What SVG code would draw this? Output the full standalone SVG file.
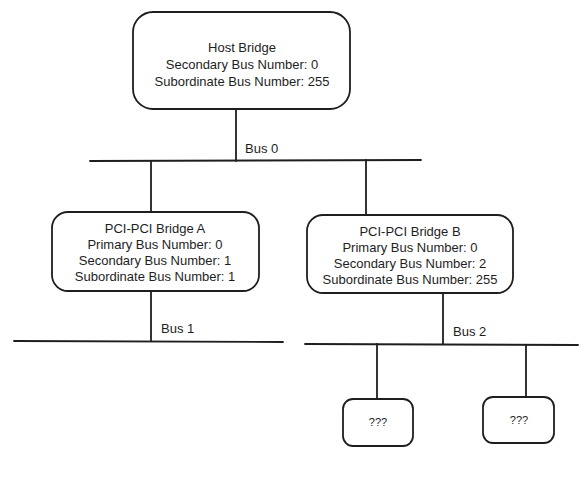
<svg xmlns="http://www.w3.org/2000/svg" width="586" height="488" viewBox="0 0 586 488">
<style>
.box{fill:#ffffff;stroke:#1e1e1e;stroke-width:1.8}
.ln{stroke:#1e1e1e;stroke-width:1.8;fill:none;stroke-linecap:round}
text{font-family:"Liberation Sans",Arial,sans-serif;font-size:13px;fill:#1e1e1e;text-anchor:middle;dominant-baseline:central}
.lbl{text-anchor:start}
</style>
<rect width="586" height="488" fill="#ffffff"/>
<g id="connectors">
<line class="ln" x1="236" y1="109" x2="236" y2="161"/>
<line class="ln" x1="90" y1="161" x2="421" y2="160"/>
<line class="ln" x1="151" y1="161" x2="151" y2="212"/>
<line class="ln" x1="366" y1="160" x2="366" y2="215"/>
<line class="ln" x1="151" y1="291" x2="151" y2="341"/>
<line class="ln" x1="14" y1="341" x2="283" y2="342"/>
<line class="ln" x1="443" y1="293" x2="443" y2="344"/>
<line class="ln" x1="305" y1="344" x2="578" y2="345"/>
<line class="ln" x1="377" y1="344" x2="377" y2="399"/>
<line class="ln" x1="526" y1="345" x2="526" y2="397"/>
<text class="lbl" x="245" y="148">Bus 0</text>
<text class="lbl" x="161" y="328">Bus 1</text>
<text class="lbl" x="453" y="331">Bus 2</text>
</g>
<g id="host-bridge">
<rect class="box" x="133" y="12" width="217" height="97" rx="20"/>
<text x="242" y="47">Host Bridge</text>
<text x="242" y="64">Secondary Bus Number: 0</text>
<text x="242" y="81">Subordinate Bus Number: 255</text>
</g>
<g id="bridge-a">
<rect class="box" x="52" y="212" width="207" height="79" rx="16"/>
<text x="155" y="228">PCI-PCI Bridge A</text>
<text x="155" y="244">Primary Bus Number: 0</text>
<text x="155" y="260">Secondary Bus Number: 1</text>
<text x="155" y="276">Subordinate Bus Number: 1</text>
</g>
<g id="bridge-b">
<rect class="box" x="307" y="215" width="206" height="78" rx="16"/>
<text x="410" y="231">PCI-PCI Bridge B</text>
<text x="410" y="247">Primary Bus Number: 0</text>
<text x="410" y="263">Secondary Bus Number: 2</text>
<text x="410" y="279">Subordinate Bus Number: 255</text>
</g>
<g id="device-1">
<rect class="box" x="343" y="399" width="70" height="47" rx="10"/>
<text x="378" y="422" style="font-size:11px">???</text>
</g>
<g id="device-2">
<rect class="box" x="483" y="397" width="71" height="46" rx="10"/>
<text x="519" y="420" style="font-size:11px">???</text>
</g>
</svg>
